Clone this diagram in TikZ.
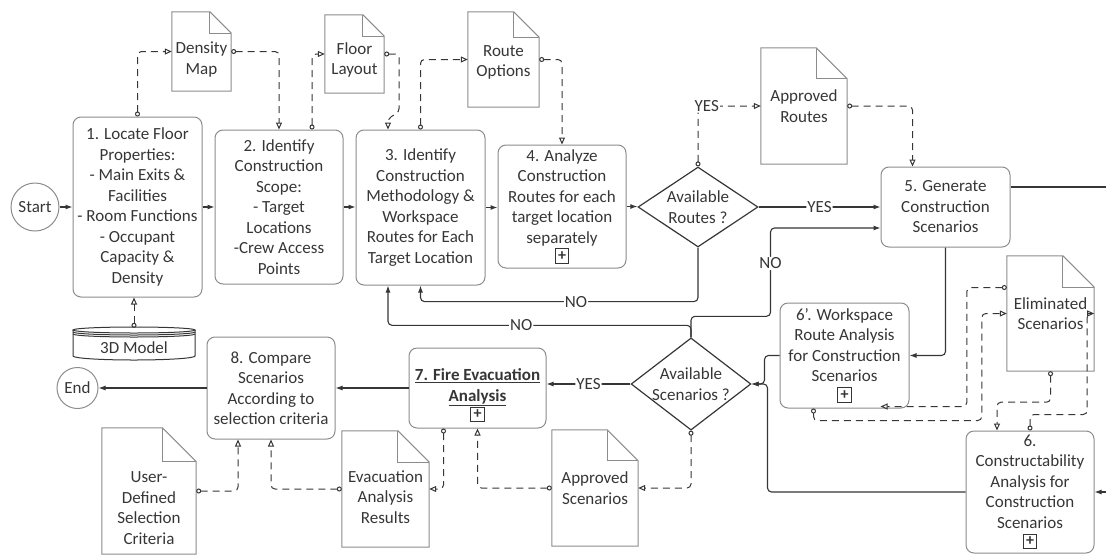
\documentclass[tikz,border=0pt]{standalone}
\usepackage{fontspec}
\setmainfont{Carlito}
\usepackage{xcolor}
\usetikzlibrary{positioning}
\usetikzlibrary{shapes.geometric}
\usetikzlibrary{arrows.meta}
\usetikzlibrary{calc}
\definecolor{boxgray}{HTML}{8C8C8C}
\definecolor{linegray}{HTML}{363636}
\definecolor{txtgray}{HTML}{363636}
\newcommand{\docnode}[7][0]{ % Takes text shift (optional), name, x coord, y coord, width, height, text as arguments
    \pgfmathsetmacro{\docfold}{0.36*#5}
    \node [doctext, minimum width=#5pt, minimum height=#6pt] (#2) at (#3,#4) {};
    \node [doctext] (#2-txt) at ([yshift=-#1pt]#2.center) {#7};
    \draw [docline] (#2.north west) -- ([xshift=-\docfold pt]#2.north east) -- ([yshift=-\docfold pt]#2.north east) -- (#2.south east) -- (#2.south west) -- cycle;
    \draw [docline] ([xshift=-\docfold pt]#2.north east) |- ([yshift=-\docfold pt]#2.north east);
}
\newcommand{\plusbox}{{\setlength{\fboxsep}{2.2pt}\setlength{\fboxrule}{1pt}\fbox{\fontsize{16}{16}\selectfont\textbf{+}}}}

\begin{document}
\begin{tikzpicture}[x=1pt, y=-1pt, font=\fontsize{17}{20.5}\selectfont, text=txtgray,
    proc/.style={draw=boxgray, line width=1pt, rounded corners=8pt, align=center, inner sep=1pt},
    decision/.style={diamond, draw=linegray, line width=1.2pt, align=center, inner sep=0pt},
    terminal/.style={circle, draw=boxgray, line width=1pt, inner sep=0pt},
    doctext/.style={align=center, inner sep=0pt},
    docline/.style={draw=boxgray, line width=1pt},
    flow/.style={draw=linegray, line width=1.1pt, rounded corners=4pt, -{Latex[length=7pt, width=5pt]}},
    plainline/.style={draw=linegray, line width=1.1pt},
    dataflow/.style={draw=linegray, line width=1pt, dash pattern=on 7pt off 5pt, rounded corners=4pt,
        {Circle[open, length=5pt, width=5pt]}-{Triangle[open, length=7pt, width=6pt]}},
    lbl/.style={fill=white, inner sep=1pt}]
    \useasboundingbox (0,0) rectangle (1106,555);

    % Terminals
    \node[terminal, minimum size=48pt] (start) at (35,207) {Start};
    \node[terminal, minimum size=41pt] (end) at (77.5,388) {End};

    % Process steps
    \node[proc, minimum width=129pt, minimum height=180pt] (b1) at (137.5,207) {1. Locate Floor\\Properties:\\- Main Exits \&\\Facilities\\- Room Functions\\- Occupant\\Capacity \&\\Density};
    \node[proc, minimum width=128pt, minimum height=154pt] (b2) at (279,207) {2. Identify\\Construction\\Scope:\\- Target\\Locations\\-Crew Access\\Points};
    \node[proc, minimum width=129pt, minimum height=155pt] (b3) at (420.5,207.5) {3. Identify\\Construction\\Methodology \&\\Workspace\\Routes for Each\\Target Location};
    \node[proc, minimum width=128pt, minimum height=123pt] (b4) at (562,206.5) {4. Analyze\\Construction\\Routes for each\\target location\\separately\\[-3pt]\plusbox};
    \node[proc, minimum width=129pt, minimum height=80pt] (b5) at (945.5,207) {5. Generate\\Construction\\Scenarios};
    \node[proc, minimum width=129pt, minimum height=105pt] (b6p) at (844.5,355.5) {6'. Workspace\\Route Analysis\\for Construction\\Scenarios\\[-3pt]\plusbox};
    \node[proc, minimum width=128pt, minimum height=122pt] (b6) at (1030,492) {6.\\Constructability\\Analysis for\\Construction\\Scenarios\\[-3pt]\plusbox};
    \node[proc, minimum width=137pt, minimum height=80pt] (b7) at (477.5,388) {\rule{0pt}{27pt}\underline{\textbf{7. Fire Evacuation}}\\\underline{\textbf{Analysis}}\\[-3pt]\plusbox};
    \node[proc, minimum width=128pt, minimum height=102pt] (b8) at (271,388) {8. Compare\\Scenarios\\According to\\selection criteria};

    % Decisions
    \node[decision, aspect=1.5, minimum width=120pt, minimum height=80pt] (d1) at (698,207) {Available\\Routes ?};
    \node[decision, aspect=1.3, minimum width=112pt, minimum height=88pt] (d2) at (691,384) {Available\\Scenarios ?};

    % 3D model store
    \node[minimum width=122pt, minimum height=40pt, inner sep=0pt] (mdl) at (134,348) {3D Model};
    \draw[docline, draw=linegray] (73,330) -- (73,356) arc[start angle=180, end angle=360, x radius=61pt, y radius=4pt] -- (195,330);
    \draw[docline, draw=linegray] (134,330) ellipse [x radius=61pt, y radius=3pt];
    \draw[docline, draw=linegray] (73,332) arc[start angle=180, end angle=360, x radius=61pt, y radius=3pt];
    \draw[docline, draw=linegray] (73,334) arc[start angle=180, end angle=360, x radius=61pt, y radius=3pt];

    % Documents
    \docnode[8]{dm}{201.5}{51.5}{59}{79}{Density\\Map}
    \docnode[6]{fl}{354.5}{54}{59}{78}{Floor\\Layout}
    \docnode[3]{ro}{503.5}{59.5}{71}{95}{Route\\Options}
    \docnode{ar}{804}{106}{86}{116}{Approved\\Routes}
    \docnode{el}{1050.5}{313.5}{87}{115}{Eliminated\\Scenarios}
    \docnode[17]{ud}{149}{491}{94}{126}{User-\\Defined\\Selection\\Criteria}
    \docnode[8]{ear}{385.5}{489}{87}{116}{Evacuation\\Analysis\\Results}
    \docnode{as}{595}{488}{86}{116}{Approved\\Scenarios}

    % Off-page ends
    \coordinate (offR1) at (1106,187);
    \coordinate (offR2) at (1106,492);

    % Main flow
    \draw[flow] (start.east) -- (start.east -| b1.west);
    \draw[flow] (b1.east) -- (b1.east -| b2.west);
    \draw[flow] (b2.east) -- (b2.east -| b3.west);
    \draw[flow] (b3.east) -- (b3.east -| b4.west);
    \draw[flow] (b4.east) -- (b4.east -| d1.west);
    \draw[flow] (d1.east) -- node[lbl]{YES} (b5.west);
    \draw[flow] (d1.south) -- ++(0,54) -| node[lbl, pos=0.22]{NO} (b3.south);
    \draw[flow] (d2.north) -- ++(0,-12) -| node[lbl, pos=0.28]{NO} ($(b3.south)+(-32.5,0)$);
    \draw[flow] (d2.north) -- ++(0,-21) -| node[lbl, pos=0.8]{NO} ($(b5.west)+(-110,21)$) -- ($(b5.west)+(0,21)$);
    \draw[plainline] (offR1 -| b5.east) -- (offR1);
    \draw[flow] (offR2) -- (b6.east);
    \draw[flow] (b5.south) |- (b6p.east);
    \draw[flow] (b6p.west) -- ++(-15,0) |- (d2.east);
    \draw[flow] (b6.west) -| ($(d2.east)+(16,0)$) -- (d2.east);
    \draw[flow] (d2.west) -- node[lbl]{YES} (d2.west -| b7.east);
    \draw[flow] (b7.west) -- (b8.east);
    \draw[flow] (b8.west) -- (end.east);

    % Data links
    \draw[dataflow] (mdl.north) -- (mdl.north |- b1.south);
    \draw[dataflow] (b1.north) |- (dm.west);
    \draw[dataflow] (dm.east) -| (b2.north);
    \draw[dataflow] ($(b2.north)+(33,0)$) |- (fl.west);
    \draw[dataflow] (fl.east) -- ++(15,0) -- ++(0,58) -- ($(b3.north)+(-32.5,-11)$) -- ($(b3.north)+(-32.5,0)$);
    \draw[dataflow] (b3.north) |- (ro.west);
    \draw[dataflow] (ro.east) -| (b4.north);
    \draw[dataflow] (d1.north) |- node[lbl, pos=0.57]{YES} (ar.west);
    \draw[dataflow] (ar.east) -| ($(b5.north)+(-33,0)$);
    \draw[dataflow] ($(el.west)+(0,-26)$) -| ($(el.west)+(-40,93)$) -- ($(b6p.south east)+(-29,-2)$);
    \draw[dataflow] ($(b6p.south)+(-31,0)$) |- ($(el.west)+(-25,107)$) |- (el.west);
    \draw[dataflow] (el.south) -- ++(0,31) -| ($(b6.north)+(-33,0)$);
    \draw[dataflow] (b6.north) -- ++(0,-16) -| ($(el.east)+(-7,0)$) -- (el.east);
    \draw[dataflow] (ud.east) -| ($(b8.south)+(-33,0)$);
    \draw[dataflow] (ear.west) -| (b8.south);
    \draw[dataflow] ($(b7.south)+(-34,0)$) |- (ear.east);
    \draw[dataflow] (as.west) -| (b7.south);
    \draw[dataflow] (d2.south) |- (as.east);
\end{tikzpicture}
\end{document}
